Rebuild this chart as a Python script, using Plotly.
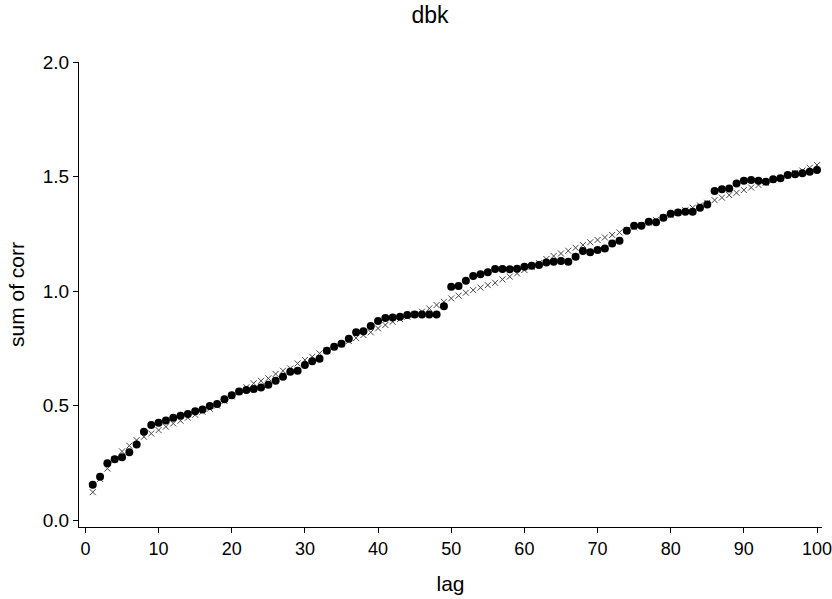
import plotly.graph_objects as go

lags = list(range(1, 101))

# observed cumulative sum of correlations (filled dots)
observed = [
    0.154, 0.189, 0.248, 0.266, 0.274, 0.296, 0.330, 0.386, 0.415, 0.425,
    0.435, 0.447, 0.456, 0.463, 0.475, 0.483, 0.498, 0.507, 0.528, 0.545,
    0.561, 0.568, 0.572, 0.579, 0.591, 0.608, 0.626, 0.648, 0.652, 0.677,
    0.694, 0.704, 0.739, 0.757, 0.770, 0.792, 0.820, 0.825, 0.847, 0.869,
    0.882, 0.885, 0.888, 0.895, 0.898, 0.898, 0.898, 0.898, 0.934, 1.019,
    1.022, 1.045, 1.066, 1.073, 1.082, 1.096, 1.096, 1.095, 1.097, 1.106,
    1.111, 1.114, 1.125, 1.128, 1.131, 1.128, 1.150, 1.175, 1.169, 1.179,
    1.186, 1.208, 1.220, 1.263, 1.285, 1.285, 1.303, 1.300, 1.320, 1.337,
    1.343, 1.346, 1.346, 1.364, 1.378, 1.437, 1.444, 1.448, 1.470, 1.482,
    1.485, 1.482, 1.477, 1.488, 1.492, 1.507, 1.510, 1.514, 1.521, 1.528,
]

# reference curve (x markers)
reference = [
    0.122, 0.180, 0.225, 0.265, 0.300, 0.325, 0.349, 0.364, 0.378, 0.393,
    0.408, 0.422, 0.434, 0.447, 0.460, 0.473, 0.486, 0.500, 0.520, 0.540,
    0.560, 0.580, 0.597, 0.608, 0.619, 0.638, 0.652, 0.662, 0.684, 0.699,
    0.713, 0.728, 0.741, 0.755, 0.768, 0.782, 0.795, 0.808, 0.820, 0.837,
    0.852, 0.866, 0.878, 0.888, 0.898, 0.910, 0.924, 0.939, 0.953, 0.968,
    0.980, 0.993, 1.004, 1.015, 1.026, 1.036, 1.051, 1.063, 1.077, 1.092,
    1.106, 1.122, 1.140, 1.153, 1.164, 1.176, 1.189, 1.201, 1.213, 1.223,
    1.234, 1.245, 1.256, 1.267, 1.278, 1.289, 1.299, 1.310, 1.321, 1.331,
    1.342, 1.353, 1.364, 1.374, 1.385, 1.397, 1.408, 1.419, 1.429, 1.441,
    1.452, 1.463, 1.473, 1.484, 1.494, 1.505, 1.515, 1.526, 1.538, 1.550,
]

x_ticks = [0, 10, 20, 30, 40, 50, 60, 70, 80, 90, 100]
y_ticks = [0.0, 0.5, 1.0, 1.5, 2.0]
y_tick_labels = ["0.0", "0.5", "1.0", "1.5", "2.0"]

FONT = "Liberation Sans, Arial, Helvetica, sans-serif"

fig = go.Figure()
fig.add_trace(go.Scatter(
    x=lags, y=reference, mode="markers", name="reference",
    marker=dict(symbol="x-thin", size=6, line=dict(width=1, color="#444444"), color="#444444"),
    cliponaxis=False,
))
fig.add_trace(go.Scatter(
    x=lags, y=observed, mode="markers", name="observed",
    marker=dict(symbol="circle", size=8, color="black", line=dict(width=0)),
    cliponaxis=False,
))

fig.update_layout(
    width=832, height=599,
    paper_bgcolor="white", plot_bgcolor="white",
    showlegend=False,
    margin=dict(l=79, r=10, t=62, b=72, autoexpand=False),
    font=dict(family=FONT, color="black", size=18),
    title=dict(text="dbk", x=430 / 832, xref="container", xanchor="center",
               y=1 - 15 / 599, yref="container", yanchor="middle",
               automargin=False,
               font=dict(family=FONT, size=23, color="black")),
)

fig.update_xaxes(
    range=[-0.88, 100.68], tickmode="array", tickvals=x_ticks,
    ticks="outside", ticklen=5, tickwidth=1, tickcolor="black",
    showline=True, linecolor="black", linewidth=1, mirror=False,
    showgrid=False, zeroline=False, automargin=False,
    ticklabeloverflow="allow",
    tickfont=dict(family=FONT, size=18, color="black"),
    title=dict(text="lag", font=dict(family=FONT, size=21, color="black"), standoff=18),
)
fig.update_yaxes(
    range=[-0.03, 2.0], tickmode="array", tickvals=y_ticks, ticktext=y_tick_labels,
    ticks="outside", ticklen=5, tickwidth=1, tickcolor="black",
    showline=True, linecolor="black", linewidth=1, mirror=False,
    showgrid=False, zeroline=False, automargin=False,
    tickfont=dict(family=FONT, size=19, color="black"),
    title=dict(text="sum of corr", font=dict(family=FONT, size=21, color="black"), standoff=12),
)

fig.write_html("out.html", config={"displayModeBar": False},
               post_script="document.body.style.margin='0px';")
